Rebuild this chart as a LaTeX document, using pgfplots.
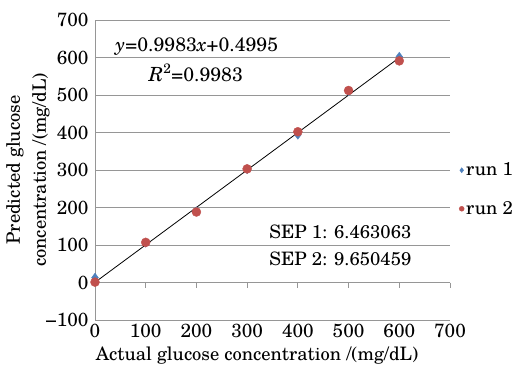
\documentclass[border=0pt]{standalone}
\usepackage{fontspec}
\setmainfont{TeX Gyre Schola}
\usepackage{pgfplots}
\pgfplotsset{compat=1.18}
\definecolor{exblue}{RGB}{79,129,189}
\definecolor{exred}{RGB}{192,80,77}
\definecolor{gridgray}{RGB}{150,150,150}
\begin{document}
\begin{tikzpicture}[font=\fontsize{18.5}{24}\selectfont]
\useasboundingbox (-95pt,-44pt) rectangle (424pt,320pt);
\begin{axis}[at={(0,0)}, anchor=south west, scale only axis, width=355pt, height=300pt,
 xmin=0,xmax=700,ymin=-100,ymax=700,
 axis lines*=left,
 xtick={0,100,...,700}, ytick={-100,0,...,700},
 xticklabels={0,100,200,300,400,500,600,700},
 yticklabels={−100,0,100,200,300,400,500,600,700},
 major tick length=0pt,
 x axis line style={draw=none},
 y axis line style={gridgray, line width=0.9pt},
 ymajorgrids, grid style={gridgray, line width=0.9pt},
 tick label style={font=\fontsize{19}{22}\selectfont},
 yticklabel style={anchor=east, xshift=-3pt},
 xticklabel style={anchor=north, yshift=-1pt},
 clip=false,
 legend style={draw=none, fill=none, at={(axis cs:700,248)}, anchor=west, xshift=9pt,
   row sep=20pt, inner sep=0pt, font=\fontsize{18.5}{22}\selectfont},
 legend cell align=left,
 legend image code/.code={\draw[#1, mark size=2.5pt] plot coordinates {(0pt,0pt)};},
]
\draw[gridgray, line width=0.9pt] (axis cs:0,0) -- (axis cs:700,0);
\pgfplotsinvokeforeach{100,200,...,700}{\draw[gridgray, line width=0.9pt] (axis cs:#1,0) -- ([yshift=-5pt]axis cs:#1,0);}
\addplot[only marks, mark=diamond*, mark size=4.5pt, color=exblue] coordinates {
 (0,13) (100,106) (200,190) (300,302) (400,394) (500,510) (600,602)};
\addlegendentry{run 1}
\addplot[only marks, mark=*, mark size=4.5pt, color=exred] coordinates {
 (0,1) (100,107) (200,188) (300,303) (400,402) (500,512) (600,591)};
\addlegendentry{run 2}
\addplot[black, line width=0.8pt, forget plot] coordinates {(0,0.4995) (600,599.4795)};
\node[font=\fontsize{19.5}{22}\selectfont] at (axis cs:201,628) {\textit{y}=0.9983\textit{x}+0.4995};
\node[font=\fontsize{19.5}{22}\selectfont] at (axis cs:199,559) {\textit{R}\textsuperscript{2}=0.9983};
\node[anchor=west] at (axis cs:337,135) {SEP 1: 6.463063};
\node[anchor=west] at (axis cs:337,63) {SEP 2: 9.650459};
\end{axis}
\node[rotate=90, align=center] at (-67pt,150pt) {Predicted glucose\\[2pt]concentration /(mg/dL)};
\node[anchor=base] at (162pt,-40pt) {Actual glucose concentration /(mg/dL)};
\end{tikzpicture}
\end{document}
